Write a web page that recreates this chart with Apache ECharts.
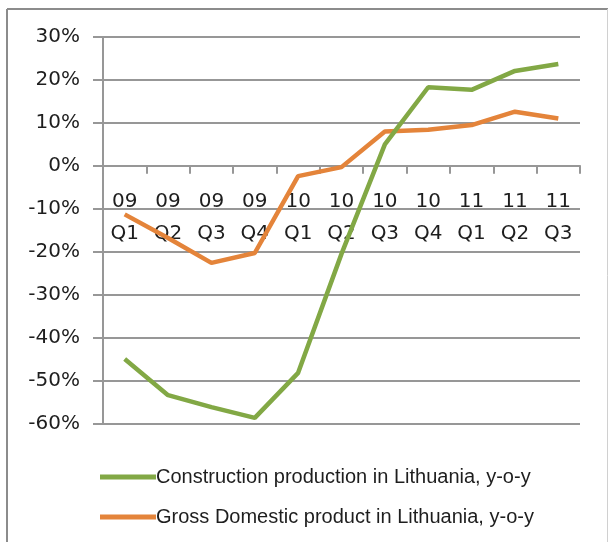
<!DOCTYPE html>
<html>
<head>
<meta charset="utf-8">
<script src="https://cdn.jsdelivr.net/npm/echarts@6/dist/echarts.min.js"></script>
<style>
html,body{margin:0;padding:0;background:#fff;}
#chart{width:609px;height:542px;}
</style>
</head>
<body>
<div id="chart"></div>
<script>
const years = ['09','09','09','09','10','10','10','10','11','11','11'];
const quarters = ['Q1','Q2','Q3','Q4','Q1','Q2','Q3','Q4','Q1','Q2','Q3'];
const categories = years.map((y, i) => y + '\n' + quarters[i]);
const construction = [-45.0, -53.4, -56.2, -58.7, -48.2, -20.5, 5.0, 18.3, 17.7, 22.1, 23.7];
const gdp = [-11.3, -16.8, -22.6, -20.3, -2.4, -0.3, 8.0, 8.4, 9.5, 12.6, 11.0];
const seriesNames = ['Construction production in Lithuania, y-o-y', 'Gross Domestic product in Lithuania, y-o-y'];

const yMin = -60, yMax = 30;
const gridTop = 37, gridBottom = 118.5, H = 542;
const plotH = H - gridTop - gridBottom;
// lift the category axis (line, ticks and labels) up to the 0% line
const xOffset = -((0 - yMin) / (yMax - yMin)) * plotH;

const chart = echarts.init(document.getElementById('chart'), null, {renderer: 'canvas'});
const axisColor = '#979797';
const textColor = '#1e1e1e';
chart.setOption({
  animation: false,
  backgroundColor: '#ffffff',
  graphic: [
    {type: 'line', shape: {x1: 7, y1: 9, x2: 608, y2: 9}, style: {stroke: '#8c8c8c', lineWidth: 2}},
    {type: 'line', shape: {x1: 7, y1: 9, x2: 7, y2: 542}, style: {stroke: '#8c8c8c', lineWidth: 2}},
    {type: 'line', shape: {x1: 607.5, y1: 9, x2: 607.5, y2: 542}, style: {stroke: '#d0d0d0', lineWidth: 1}}
  ],
  grid: {left: 103, right: 29, top: gridTop, bottom: gridBottom, containLabel: false},
  legend: {
    orient: 'vertical',
    left: 95,
    top: 462,
    itemWidth: 56,
    itemHeight: 5,
    itemGap: 20,
    icon: 'rect',
    textStyle: {fontFamily: 'Liberation Sans', fontSize: 20, color: textColor, padding: [0, 0, 0, -5]},
    data: seriesNames
  },
  xAxis: {
    type: 'category',
    data: categories,
    boundaryGap: true,
    position: 'bottom',
    offset: xOffset,
    axisLine: {onZero: false, lineStyle: {color: axisColor, width: 2}},
    axisTick: {show: true, length: 8, alignWithLabel: false, lineStyle: {color: axisColor, width: 2}},
    axisLabel: {
      margin: 20,
      interval: 0,
      fontFamily: 'DejaVu Sans',
      fontSize: 20,
      lineHeight: 32,
      color: textColor
    },
    splitLine: {show: false}
  },
  yAxis: {
    type: 'value',
    min: yMin,
    max: yMax,
    interval: 10,
    axisLine: {show: true, lineStyle: {color: axisColor, width: 2}},
    axisTick: {show: true, length: 10, lineStyle: {color: axisColor, width: 2}},
    axisLabel: {
      margin: 23,
      formatter: '{value}%',
      fontFamily: 'DejaVu Sans',
      fontSize: 20,
      color: textColor
    },
    splitLine: {show: true, lineStyle: {color: axisColor, width: 2}}
  },
  series: [
    {
      name: seriesNames[0],
      type: 'line',
      data: construction,
      showSymbol: false,
      symbol: 'none',
      lineStyle: {color: '#82a845', width: 4.5},
      itemStyle: {color: '#82a845'},
      z: 3
    },
    {
      name: seriesNames[1],
      type: 'line',
      data: gdp,
      showSymbol: false,
      symbol: 'none',
      lineStyle: {color: '#e4843a', width: 4.5},
      itemStyle: {color: '#e4843a'},
      z: 2
    }
  ]
});
</script>
</body>
</html>
